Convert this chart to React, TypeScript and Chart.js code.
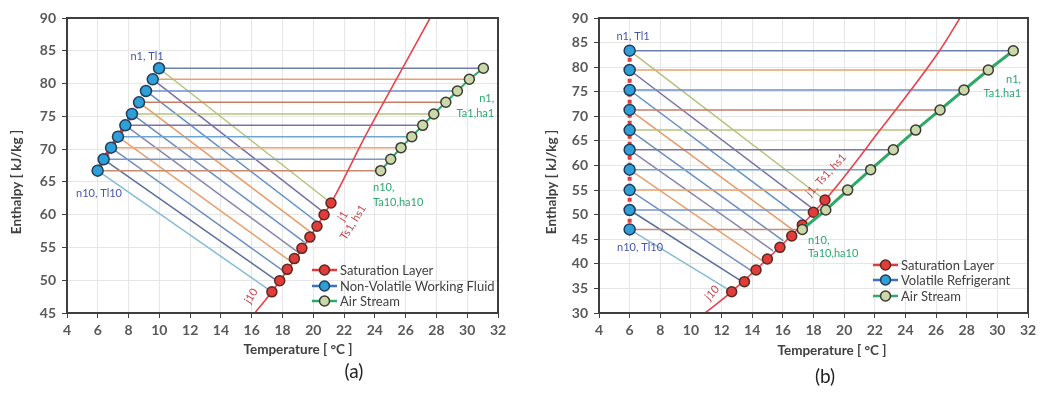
import React, { useEffect, useRef } from 'react';
import { Chart, registerables } from 'chart.js';
Chart.register(...registerables);

const FONT = 'Lato, "Open Sans", "DejaVu Sans", sans-serif';

// ---------- Panel (a) data ----------
const A_H = [82.33, 80.65, 78.87, 77.14, 75.36, 73.63, 71.9, 70.22, 68.45, 66.71];
const A_LIQ_T = [9.98, 9.57, 9.13, 8.68, 8.22, 7.79, 7.31, 6.86, 6.38, 5.99];
const A_AIR_T = [31.05, 30.14, 29.36, 28.61, 27.83, 27.11, 26.4, 25.7, 25.03, 24.38];
const A_SAT_T = [21.15, 20.7, 20.24, 19.78, 19.26, 18.77, 18.31, 17.82, 17.31];
const A_SAT_H = [61.78, 59.98, 58.24, 56.58, 54.86, 53.3, 51.66, 49.93, 48.23];
const A_TIE_T = [21.15, 20.72, 20.3, 19.87, 19.44, 19.02, 18.59, 18.16, 17.74, 17.31];
const A_TIE_H = [61.78, 60.27, 58.77, 57.26, 55.76, 54.25, 52.75, 51.24, 49.74, 48.23];
const A_CURVE_T = [16.2, 17.31, 21.15, 23.36, 25.79, 27.59];
const A_CURVE_H = [45, 48.23, 61.78, 71.9, 82.3, 90];
const A_LEGEND = ['Saturation Layer', 'Non-Volatile Working Fluid', 'Air Stream'];

// ---------- Panel (b) data ----------
const B_H = [83.35, 79.42, 75.36, 71.3, 67.2, 63.2, 59.15, 55.0, 50.95, 47.0];
const B_LIQ_T = [6, 6, 6, 6, 6, 6, 6, 6, 6, 6];
const B_AIR_T = [31.04, 29.41, 27.82, 26.26, 24.67, 23.21, 21.73, 20.23, 18.8, 17.27];
const B_SAT_T = [18.75, 17.99, 17.27, 16.58, 15.81, 14.99, 14.25, 13.49, 12.66];
const B_SAT_H = [52.98, 50.48, 47.9, 45.66, 43.36, 40.99, 38.75, 36.37, 34.33];
const B_TIE_T = [18.75, 18.07, 17.4, 16.72, 16.04, 15.37, 14.69, 14.01, 13.34, 12.66];
const B_TIE_H = [52.98, 50.91, 48.84, 46.76, 44.69, 42.62, 40.55, 38.48, 36.4, 34.33];
const B_CURVE_T = [10.92, 12.66, 18.75, 22.34, 26.26, 27.56];
const B_CURVE_H = [30, 34.33, 52.98, 67.2, 83.5, 90];
const B_LEGEND = ['Saturation Layer', 'Volatile Refrigerant', 'Air Stream'];

const X_TICKS = { min: 4, max: 32, step: 2 };
const X_TITLE = 'Temperature [ °C ]';
const Y_TITLE = 'Enthalpy [ kJ/kg ]';

// ---------- styles ----------
const H_COLORS = ['#6d7fb0', '#e9a06f', '#6b8fca', '#c97b66', '#b9c07f', '#7e73a8', '#6ea6cf', '#eaa571', '#7b95c7', '#c98a6f'];
const D_COLORS = ['#b5c27a', '#7b6fa8', '#5f8fc5', '#e79a66', '#6a8fc0', '#8a86b0', '#e8a070', '#7090c0', '#5d6f9a', '#86bcd8'];
const RED = '#e23b3b';
const BLUE_FILL = '#2f9fd8';
const AIR_FILL = '#cbd8aa';
const GREEN = '#2fa865';
const EDGE = '#3a3a30';
const BLUE_LBL = '#4656a8';
const GREEN_LBL = '#2ca871';
const RED_LBL = '#c9404c';

type Lbl = { text: string[]; x: number; y: number; color: string; align: CanvasTextAlign; rot?: number; size?: number; lh?: number };

const PANEL_A = {
  H: A_H, liqT: A_LIQ_T, airT: A_AIR_T, satT: A_SAT_T, satH: A_SAT_H, tieT: A_TIE_T, tieH: A_TIE_H,
  curveT: A_CURVE_T, curveH: A_CURVE_H, legend: A_LEGEND,
  yMin: 45, yMax: 90, canvasW: 520, left: 0, yWidth: 67, padRight: 22, airWidth: 2,
  legendPos: { x1: 312, x2: 337, tx: 340, ys: [270, 286, 301] },
  yTitle: { x: 17, y: 182 }, xTitle: { x: 298, y: 350 }, caption: { text: '(a)', x: 354, y: 372 },
  labels: [
    { text: ['n1, Tl1'], x: 9.2, y: 84.2, color: BLUE_LBL, align: 'center' },
    { text: ['n10, Tl10'], x: 6.08, y: 63.3, color: BLUE_LBL, align: 'center' },
    { text: ['n1,'], x: 31.75, y: 77.8, color: GREEN_LBL, align: 'right' },
    { text: ['Ta1,ha1'], x: 31.75, y: 75.5, color: GREEN_LBL, align: 'right' },
    { text: ['n10,'], x: 23.88, y: 64.2, color: GREEN_LBL, align: 'left' },
    { text: ['Ta10,ha10'], x: 23.88, y: 61.9, color: GREEN_LBL, align: 'left' },
    { text: ['j1', 'Ts1, hs1'], x: 22.26, y: 59.3, color: RED_LBL, align: 'center', rot: -58, lh: 12 },
    { text: ['j10'], x: 15.96, y: 47.6, color: RED_LBL, align: 'center', rot: -58 },
  ] as Lbl[],
};

const PANEL_B = {
  H: B_H, liqT: B_LIQ_T, airT: B_AIR_T, satT: B_SAT_T, satH: B_SAT_H, tieT: B_TIE_T, tieH: B_TIE_H,
  curveT: B_CURVE_T, curveH: B_CURVE_H, legend: B_LEGEND,
  yMin: 30, yMax: 90, canvasW: 521, left: 520, yWidth: 79, padRight: 13, airWidth: 3,
  legendPos: { x1: 353, x2: 378, tx: 381, ys: [265, 280, 296] },
  yTitle: { x: 32, y: 182 }, xTitle: { x: 312, y: 351 }, caption: { text: '(b)', x: 305, y: 377 },
  labels: [
    { text: ['n1, Tl1'], x: 6.22, y: 86.3, color: BLUE_LBL, align: 'center' },
    { text: ['n10, Tl10'], x: 6.68, y: 43.4, color: BLUE_LBL, align: 'center' },
    { text: ['n1,'], x: 31.55, y: 77.4, color: GREEN_LBL, align: 'right' },
    { text: ['Ta1,ha1'], x: 31.55, y: 74.75, color: GREEN_LBL, align: 'right' },
    { text: ['n10,'], x: 17.64, y: 44.85, color: GREEN_LBL, align: 'left' },
    { text: ['Ta10,ha10'], x: 17.64, y: 42.2, color: GREEN_LBL, align: 'left' },
    { text: ['j1, Ts1, hs1'], x: 18.82, y: 58.07, color: RED_LBL, align: 'center', rot: -47 },
    { text: ['j10'], x: 11.38, y: 34.1, color: RED_LBL, align: 'center', rot: -47 },
  ] as Lbl[],
};

type Panel = typeof PANEL_A;

function pts(xs: number[], ys: number[]) {
  return xs.map((x, i) => ({ x, y: ys[i] }));
}

function buildDatasets(p: Panel) {
  const ds: any[] = [];
  ds.push({
    data: pts(p.airT, p.H), showLine: true, borderColor: GREEN, borderWidth: p.airWidth,
    pointRadius: 5, pointBackgroundColor: AIR_FILL, pointBorderColor: EDGE, pointBorderWidth: 1.5,
  });
  ds.push({
    data: pts(p.liqT, p.H), showLine: true, borderColor: RED, borderWidth: 4, borderDash: [4, 3],
    pointRadius: 5.5, pointBackgroundColor: BLUE_FILL, pointBorderColor: '#1f3d5c', pointBorderWidth: 1.5,
  });
  ds.push({
    data: pts(p.satT, p.satH), showLine: false,
    pointRadius: 5, pointBackgroundColor: RED, pointBorderColor: '#5b2a1e', pointBorderWidth: 1.5,
  });
  ds.push({
    data: pts(p.curveT, p.curveH), showLine: true, borderColor: '#e8434d', borderWidth: 1.6,
    pointRadius: 0, cubicInterpolationMode: 'monotone',
  });
  p.H.forEach((h, i) => {
    ds.push({
      data: [{ x: p.liqT[i], y: h }, { x: p.airT[i], y: h }], showLine: true,
      borderColor: H_COLORS[i], borderWidth: 1.5, pointRadius: 0,
    });
  });
  p.H.forEach((h, i) => {
    ds.push({
      data: [{ x: p.liqT[i], y: h }, { x: p.tieT[i], y: p.tieH[i] }], showLine: true,
      borderColor: D_COLORS[i], borderWidth: 1.5, pointRadius: 0,
    });
  });
  return ds;
}

function overlay(p: Panel) {
  return {
    id: 'overlay',
    afterDatasetsDraw(chart: any) {
      const { ctx, chartArea: a } = chart;
      ctx.save();
      ctx.strokeStyle = '#3f3f3f';
      ctx.lineWidth = 2;
      ctx.strokeRect(a.left, a.top, a.right - a.left, a.bottom - a.top);
      ctx.restore();
    },
    afterDraw(chart: any) {
      const ctx: CanvasRenderingContext2D = chart.ctx;
      const xs = chart.scales.x, ys = chart.scales.y;
      ctx.save();
      ctx.textBaseline = 'middle';
      p.labels.forEach((l) => {
        const px = xs.getPixelForValue(l.x), py = ys.getPixelForValue(l.y);
        ctx.save();
        ctx.translate(px, py);
        if (l.rot) ctx.rotate((l.rot * Math.PI) / 180);
        ctx.fillStyle = l.color;
        ctx.font = `${l.size || 11}px ${FONT}`;
        ctx.textAlign = l.align;
        const lh = l.lh || 13;
        const n = l.text.length;
        l.text.forEach((t, i) => ctx.fillText(t, 0, (i - (n - 1) / 2) * lh));
        ctx.restore();
      });
      const lg = p.legendPos;
      const styles = [
        { line: RED, fill: RED, edge: '#5b2a1e' },
        { line: '#3d72c0', fill: BLUE_FILL, edge: '#1f3d5c' },
        { line: GREEN, fill: AIR_FILL, edge: EDGE },
      ];
      p.legend.forEach((name, i) => {
        const y = lg.ys[i];
        const st = styles[i];
        ctx.strokeStyle = st.line;
        ctx.lineWidth = 2.5;
        ctx.beginPath();
        ctx.moveTo(lg.x1, y);
        ctx.lineTo(lg.x2, y);
        ctx.stroke();
        ctx.beginPath();
        ctx.arc((lg.x1 + lg.x2) / 2, y, 5, 0, Math.PI * 2);
        ctx.fillStyle = st.fill;
        ctx.fill();
        ctx.lineWidth = 1.5;
        ctx.strokeStyle = st.edge;
        ctx.stroke();
        ctx.fillStyle = '#404040';
        ctx.font = `13px ${FONT}`;
        ctx.textAlign = 'left';
        ctx.fillText(name, lg.tx, y + 0.5);
      });
      ctx.fillStyle = '#404040';
      ctx.font = `bold 13.5px ${FONT}`;
      ctx.textAlign = 'center';
      ctx.fillText(X_TITLE, p.xTitle.x, p.xTitle.y);
      ctx.save();
      ctx.translate(p.yTitle.x, p.yTitle.y);
      ctx.rotate(-Math.PI / 2);
      ctx.fillText(Y_TITLE, 0, 0);
      ctx.restore();
      ctx.fillStyle = '#222';
      ctx.font = `19px ${FONT}`;
      ctx.fillText(p.caption.text, p.caption.x, p.caption.y);
      ctx.restore();
    },
  };
}

function buildConfig(p: Panel): any {
  const tickFont = { family: FONT, size: 14, weight: 'bold' as const };
  return {
    type: 'scatter',
    data: { datasets: buildDatasets(p) },
    options: {
      animation: false,
      responsive: false,
      devicePixelRatio: 1,
      layout: { padding: { top: 18, right: p.padRight, left: 0, bottom: 0 } },
      plugins: { legend: { display: false }, tooltip: { enabled: false }, title: { display: false } },
      scales: {
        x: {
          type: 'linear', min: X_TICKS.min, max: X_TICKS.max,
          ticks: { stepSize: X_TICKS.step, color: '#595959', font: tickFont, padding: 4, maxRotation: 0 },
          grid: { color: '#e6e6e6', lineWidth: 1, tickColor: '#404040', tickLength: 5 },
          border: { color: '#404040', width: 2 },
          afterFit: (s: any) => { s.height = 80; },
        },
        y: {
          type: 'linear', min: p.yMin, max: p.yMax,
          ticks: { stepSize: 5, color: '#595959', font: tickFont, padding: 6 },
          grid: { color: '#e6e6e6', lineWidth: 1, tickColor: '#404040', tickLength: 5 },
          border: { color: '#404040', width: 2 },
          afterFit: (s: any) => { s.width = p.yWidth; },
        },
      },
    },
    plugins: [overlay(p)],
  };
}

function PanelChart({ p }: { p: Panel }) {
  const ref = useRef<HTMLCanvasElement>(null);
  useEffect(() => {
    const chart = new Chart(ref.current as HTMLCanvasElement, buildConfig(p));
    return () => chart.destroy();
  }, [p]);
  return (
    <canvas
      ref={ref}
      width={p.canvasW}
      height={393}
      style={{ position: 'absolute', left: p.left, top: 0, width: p.canvasW, height: 393 }}
    />
  );
}

export default function App() {
  return (
    <div style={{ position: 'absolute', left: 0, top: 0, width: 1041, height: 393, background: '#fff', overflow: 'hidden' }}>
      <PanelChart p={PANEL_A} />
      <PanelChart p={PANEL_B as Panel} />
    </div>
  );
}
